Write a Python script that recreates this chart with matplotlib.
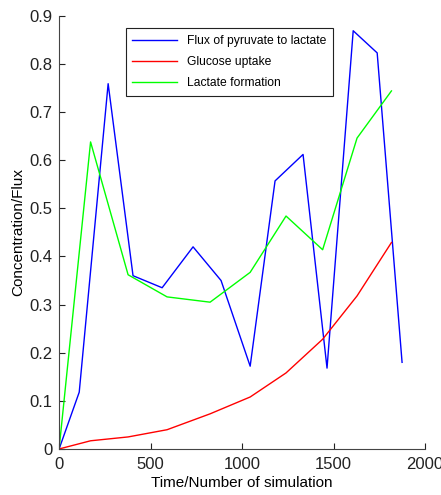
import numpy as np
import matplotlib
matplotlib.use('Agg')
import matplotlib.pyplot as plt

plt.rcParams['font.family'] = ['Liberation Sans', 'DejaVu Sans']

# Flux of pyruvate to lactate
x_flux = [0, 110, 268, 404, 563, 732, 885, 1044, 1180, 1333, 1464, 1607, 1738, 1874]
y_flux = [0, 0.118, 0.759, 0.36, 0.335, 0.42, 0.35, 0.172, 0.557, 0.612, 0.168, 0.869, 0.823, 0.18]

# glucose uptake and lactate formation share the same time points
x_slow = [0, 172, 377, 590, 825, 1044, 1240, 1440, 1628, 1816]
y_glucose = [0, 0.017, 0.025, 0.040, 0.073, 0.108, 0.158, 0.228, 0.318, 0.429]
y_lactate = [0, 0.638, 0.362, 0.316, 0.305, 0.367, 0.484, 0.414, 0.646, 0.744]

fig = plt.figure(figsize=(4.41, 4.95), dpi=100)
ax = fig.add_axes([0.134, 0.093, 0.83, 0.875])

ax.plot(x_flux, y_flux, color='#0000ff', lw=1, label='Flux of pyruvate to lactate')
ax.plot(x_slow, y_glucose, color='#ff0000', lw=1, label='Glucose uptake')
ax.plot(x_slow, y_lactate, color='#00ff00', lw=1, label='Lactate formation')

ax.set_xlim(0, 2000)
ax.set_ylim(0, 0.9)
ax.set_xticks([0, 500, 1000, 1500, 2000])
ax.set_yticks(np.arange(0, 0.91, 0.1))
ax.set_yticklabels(['0', '0.1', '0.2', '0.3', '0.4', '0.5', '0.6', '0.7', '0.8', '0.9'])

ax.spines['top'].set_visible(False)
ax.spines['right'].set_visible(False)
for s in ['left', 'bottom']:
    ax.spines[s].set_color('#444444')
ax.tick_params(direction='in', length=4, labelsize=12, colors='#222222')
ax.tick_params(axis='x', pad=6)
ax.tick_params(axis='y', pad=5)

ax.set_xlabel('Time/Number of simulation', fontsize=11, labelpad=3)
ax.set_ylabel('Concentration/Flux', fontsize=11, labelpad=3)

leg = ax.legend(loc='upper left', bbox_to_anchor=(0.165, 0.985), fontsize=8.7,
                fancybox=False, framealpha=1, edgecolor='#222222',
                handlelength=3.7, borderpad=0.55, labelspacing=0.75)
leg.get_frame().set_linewidth(0.8)

fig.savefig('out.png', dpi=100)
